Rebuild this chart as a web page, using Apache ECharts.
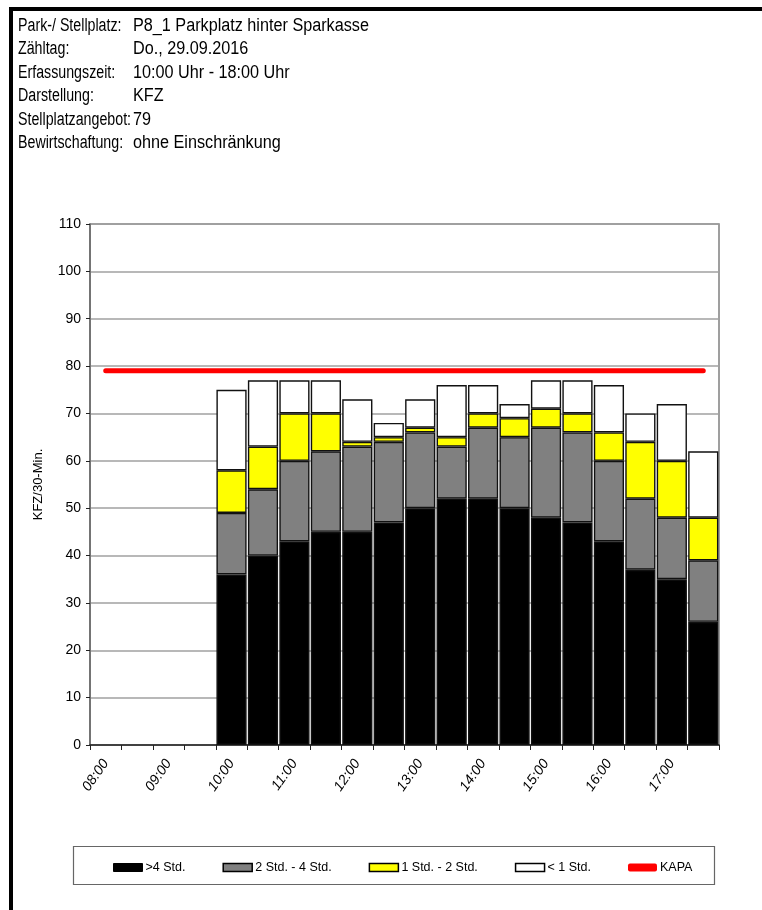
<!DOCTYPE html>
<html>
<head>
<meta charset="utf-8">
<script src="https://cdn.jsdelivr.net/npm/echarts@6/dist/echarts.min.js"></script>
<style>
  html, body { margin: 0; padding: 0; background: #fff; }
  #chart { width: 762px; height: 910px; }
</style>
</head>
<body>
<div id="chart"></div>
<script>
// Half-hour intervals of the count day
const categories = ['08:00','08:30','09:00','09:30','10:00','10:30','11:00','11:30','12:00','12:30',
                    '13:00','13:30','14:00','14:30','15:00','15:30','16:00','16:30','17:00','17:30'];

// Parked vehicles per interval, split by parking duration (no counts before 10:00)
const over4h   = [null,null,null,null,36,40,43,45,45,47,50,52,52,50,48,47,43,37,35,26];
const h2to4    = [null,null,null,null,13,14,17,17,18,17,16,11,15,15,19,19,17,15,13,13];
const h1to2    = [null,null,null,null, 9, 9,10, 8, 1, 1, 1, 2, 3, 4, 4, 4, 6,12,12, 9];
const under1h  = [null,null,null,null,17,14, 7, 7, 9, 3, 6,11, 6, 3, 6, 7,10, 6,12,14];

// Capacity of the car park
const capacity = 79;
const kapa = categories.map(() => capacity);

const seriesNames = ['>4 Std.', '2 Std. - 4 Std.', '1 Std. - 2 Std.', '< 1 Std.', 'KAPA'];

// Header block: label / value pairs
const headerLabels = ['Park-/ Stellplatz:', 'Zähltag:', 'Erfassungszeit:', 'Darstellung:', 'Stellplatzangebot:', 'Bewirtschaftung:'];
const headerValues = ['P8_1 Parkplatz hinter Sparkasse', 'Do., 29.09.2016', '10:00 Uhr - 18:00 Uhr', 'KFZ', String(capacity), 'ohne Einschränkung'];

const sans = '"Liberation Sans", Arial, sans-serif';

const chart = echarts.init(document.getElementById('chart'), null, { renderer: 'canvas' });

// header text, horizontally condensed
const headerGraphics = [];
headerLabels.forEach((t, i) => {
  headerGraphics.push({
    type: 'text', x: 18, y: 17 + i * 23.5, scaleX: 0.79,
    style: { text: t, font: '18px ' + sans, fill: '#000' }
  });
  headerGraphics.push({
    type: 'text', x: 133, y: 17 + i * 23.5, scaleX: 0.9,
    style: { text: headerValues[i], font: '18px ' + sans, fill: '#000' }
  });
});

function barSeries(name, data, color, border) {
  return {
    name: name, type: 'bar', stack: 'total', data: data,
    barCategoryGap: '4%',
    itemStyle: { color: color, borderColor: border, borderWidth: 1.4 },
    emphasis: { disabled: true }
  };
}

const option = {
  animation: false,
  backgroundColor: '#fff',
  grid: { left: 90, right: 43, top: 224, bottom: 165, show: true, borderColor: '#808080', borderWidth: 1.5, backgroundColor: 'transparent' },
  xAxis: {
    type: 'category',
    data: categories,
    boundaryGap: true,
    axisLine: { show: true, lineStyle: { color: '#222', width: 1.5 } },
    axisTick: { show: true, interval: 0, length: 5, lineStyle: { color: '#222', width: 1 } },
    axisLabel: {
      interval: 1, rotate: 55, margin: 16,
      fontFamily: sans, fontSize: 14, fontStyle: 'italic', color: '#000'
    },
    splitLine: { show: false }
  },
  yAxis: {
    type: 'value',
    min: 0, max: 110, interval: 10,
    name: 'KFZ/30-Min.',
    nameLocation: 'middle',
    nameRotate: 90,
    nameGap: 45,
    nameTextStyle: { fontFamily: sans, fontSize: 13, color: '#000' },
    axisLine: { show: true, lineStyle: { color: '#666', width: 1.5 } },
    axisTick: { show: true, length: 4, inside: false, lineStyle: { color: '#222' } },
    axisLabel: { fontFamily: sans, fontSize: 14, color: '#000', margin: 9 },
    splitLine: { show: true, lineStyle: { color: '#a0a0a0', width: 1.5 } }
  },
  legend: {
    left: 108, top: 856,
    itemWidth: 29, itemHeight: 8, itemGap: 37,
    textStyle: { fontFamily: sans, fontSize: 12.5, color: '#000', padding: [0, 0, 0, -2] },
    data: [
      { name: seriesNames[0], icon: 'rect', itemStyle: { borderColor: '#000', borderWidth: 1 } },
      { name: seriesNames[1], icon: 'rect', itemStyle: { borderColor: '#000', borderWidth: 1.5 } },
      { name: seriesNames[2], icon: 'rect', itemStyle: { borderColor: '#000', borderWidth: 1.5 } },
      { name: seriesNames[3], icon: 'rect', itemStyle: { borderColor: '#000', borderWidth: 1.5 } },
      { name: seriesNames[4], icon: 'roundRect', itemStyle: { color: '#ff0000' } }
    ]
  },
  series: [
    barSeries(seriesNames[0], over4h, '#000000', '#111'),
    barSeries(seriesNames[1], h2to4, '#808080', '#111'),
    barSeries(seriesNames[2], h1to2, '#ffff00', '#111'),
    barSeries(seriesNames[3], under1h, '#ffffff', '#111'),
    {
      name: seriesNames[4], type: 'line', data: kapa,
      symbol: 'none', z: 5,
      lineStyle: { color: '#ff0000', width: 5, cap: 'round' },
      itemStyle: { color: '#ff0000' },
      emphasis: { disabled: true }
    }
  ],
  graphic: [
    // page frame: top and left rules
    { type: 'rect', left: 9, top: 7, shape: { width: 753, height: 4 }, style: { fill: '#000' } },
    { type: 'rect', left: 9, top: 7, shape: { width: 4, height: 903 }, style: { fill: '#000' } },
    // legend box
    { type: 'rect', left: 71, top: 844, shape: { width: 641, height: 38 }, style: { fill: 'none', stroke: '#666', lineWidth: 1.2 }, z: -1 }
  ].concat(headerGraphics)
};

chart.setOption(option);
</script>
</body>
</html>
